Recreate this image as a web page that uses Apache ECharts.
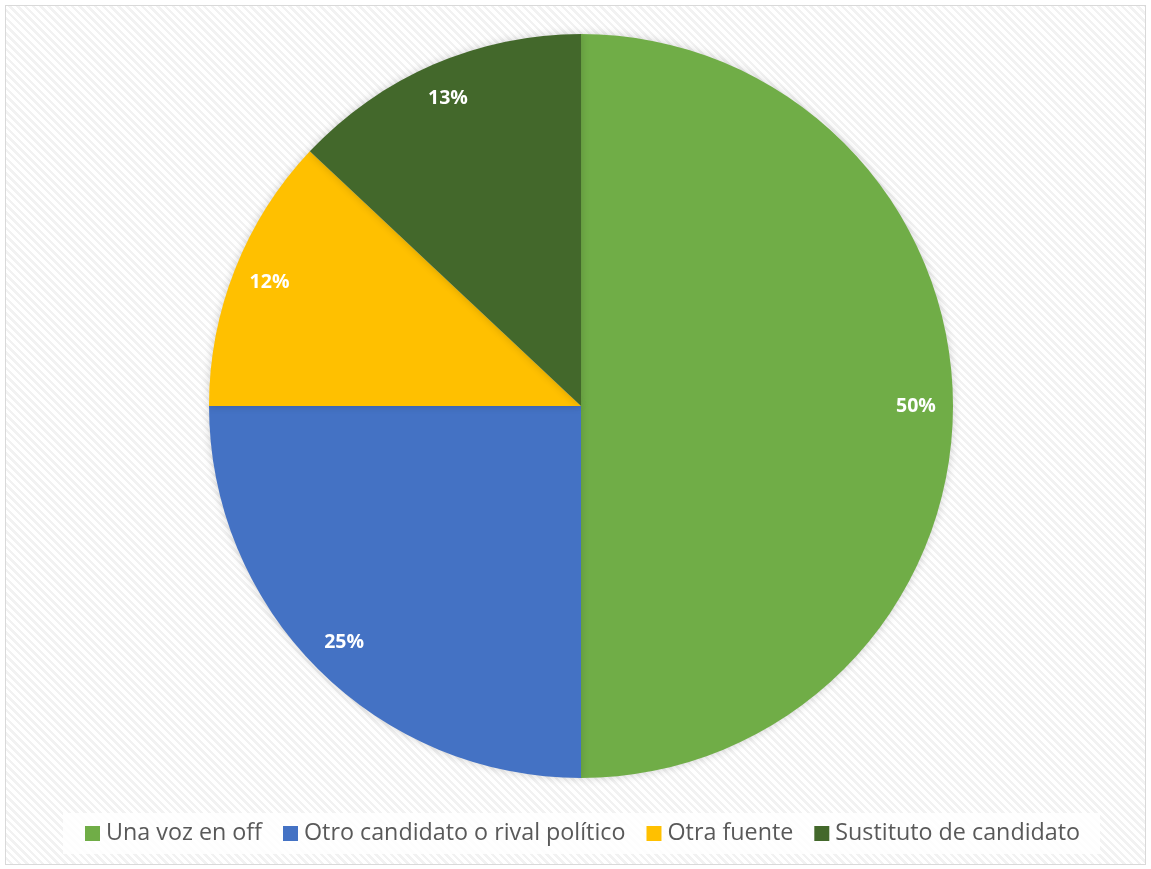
<!DOCTYPE html>
<html>
<head>
<meta charset="utf-8">
<script src="https://cdn.jsdelivr.net/npm/echarts@6/dist/echarts.min.js"></script>
<style>
  html, body { margin: 0; padding: 0; background: #ffffff; }
  #frame {
    position: absolute; left: 5px; top: 5px; width: 1141px; height: 860px;
    border: 1px solid #d9d9d9; box-sizing: border-box;
    background: repeating-linear-gradient(45deg, #ffffff 0px, #ffffff 3px, #f2f2f2 3px, #f2f2f2 5.5px);
  }
  #chart { position: absolute; left: 0; top: 0; width: 1151px; height: 869px; }
</style>
</head>
<body>
<div id="frame"></div>
<div id="chart"></div>
<script>
// Categories and shares (percent)
const categories = ['Una voz en off', 'Otro candidato o rival político', 'Otra fuente', 'Sustituto de candidato'];
const shares = [50, 25, 12, 13];
const colors = ['#70AD47', '#4472C4', '#FFC000', '#43682B'];

const pieData = categories.map((name, i) => ({ name, value: shares[i] }));

const chart = echarts.init(document.getElementById('chart'), null, { renderer: 'canvas' });
chart.setOption({
  backgroundColor: 'transparent',
  color: colors,
  animation: false,
  legend: {
    bottom: 15,
    left: 63,
    itemWidth: 15,
    itemHeight: 15,
    itemGap: 21,
    icon: 'rect',
    backgroundColor: 'rgba(255,255,255,0.85)',
    padding: [9, 20, 9, 22],
    textStyle: { fontFamily: 'Open Sans', fontSize: 23.3, color: '#595959', padding: [0, 0, 0, 1] },
    data: categories
  },
  series: [
    {
      type: 'pie',
      center: [581, 406],
      radius: [0, 372],
      startAngle: 90,
      clockwise: true,
      silent: true,
      label: { show: false },
      labelLine: { show: false },
      itemStyle: { borderWidth: 0, shadowBlur: 8, shadowColor: 'rgba(0,0,0,0.18)' },
      data: pieData
    },
    {
      // transparent ring that only carries the percentage labels near the rim
      type: 'pie',
      center: [581, 406],
      radius: [292, 372],
      startAngle: 90,
      clockwise: true,
      silent: true,
      itemStyle: { color: 'rgba(0,0,0,0)' },
      label: {
        show: true,
        position: 'inside',
        formatter: p => p.value + '%',
        color: '#ffffff',
        fontFamily: 'Open Sans',
        fontWeight: 'bold',
        fontSize: 19.5
      },
      labelLine: { show: false },
      data: pieData
    }
  ]
});
</script>
</body>
</html>
